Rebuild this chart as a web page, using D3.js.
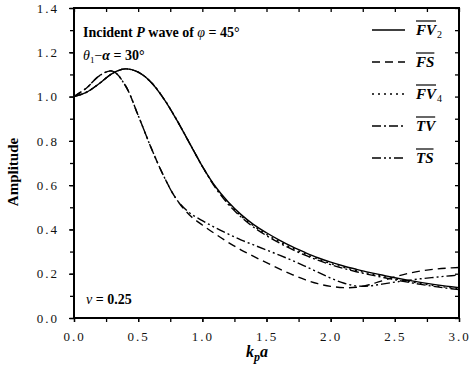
<!DOCTYPE html>
<html>
<head>
<meta charset="utf-8">
<script src="https://cdn.jsdelivr.net/npm/d3@7"></script>
<style>
  body { margin: 0; background: #fff; }
  svg { display: block; }
</style>
</head>
<body>
<div id="chart"></div>
<script>
// kpa grid
const kpa = [0.0, 0.1, 0.2, 0.3, 0.4, 0.5, 0.6, 0.7, 0.8, 0.9, 1.0, 1.1, 1.2, 1.3, 1.4, 1.5,
             1.6, 1.7, 1.8, 1.9, 2.0, 2.1, 2.2, 2.3, 2.4, 2.5, 2.6, 2.7, 2.8, 2.9, 3.0]

const fv2 = [1.000, 1.020, 1.060, 1.105, 1.125, 1.110, 1.065, 0.990, 0.895, 0.790, 0.685, 0.595, 0.525, 0.468, 0.422, 0.385,
             0.352, 0.322, 0.296, 0.272, 0.252, 0.235, 0.220, 0.206, 0.194, 0.182, 0.171, 0.161, 0.152, 0.144, 0.137]
const fs  = [1.000, 1.040, 1.095, 1.115, 1.050, 0.915, 0.770, 0.640, 0.535, 0.465, 0.420, 0.380, 0.342, 0.308, 0.278, 0.250,
             0.222, 0.196, 0.173, 0.155, 0.143, 0.137, 0.139, 0.150, 0.168, 0.186, 0.201, 0.212, 0.220, 0.225, 0.228]
const fv4 = [1.000, 1.020, 1.060, 1.105, 1.125, 1.110, 1.065, 0.990, 0.895, 0.790, 0.685, 0.593, 0.520, 0.462, 0.416, 0.378,
             0.345, 0.316, 0.290, 0.266, 0.246, 0.229, 0.214, 0.201, 0.189, 0.177, 0.166, 0.156, 0.147, 0.139, 0.132]
const tv  = [1.000, 1.020, 1.060, 1.105, 1.125, 1.110, 1.065, 0.990, 0.895, 0.790, 0.685, 0.590, 0.515, 0.457, 0.410, 0.372,
             0.339, 0.310, 0.284, 0.261, 0.241, 0.224, 0.209, 0.196, 0.184, 0.173, 0.162, 0.152, 0.143, 0.135, 0.128]
const ts  = [1.000, 1.040, 1.095, 1.115, 1.050, 0.915, 0.770, 0.640, 0.535, 0.475, 0.440, 0.408, 0.380, 0.353, 0.330, 0.307,
             0.284, 0.260, 0.234, 0.207, 0.180, 0.158, 0.145, 0.145, 0.153, 0.162, 0.170, 0.177, 0.183, 0.189, 0.194]

const seriesNames = ['FV', 'FS', 'FV', 'TV', 'TS']
const seriesSubs = ['2', '', '4', '', '']
const seriesValues = [fv2, fs, fv4, tv, ts]
const dashes = [null, '8,5', '2,4', '9,3,2,3', '9,3,2,3,2,3']

const xTicks = [0.0, 0.5, 1.0, 1.5, 2.0, 2.5, 3.0]
const yTicks = [0.0, 0.2, 0.4, 0.6, 0.8, 1.0, 1.2, 1.4]

const W = 474, H = 381
const margin = {top: 8, right: 15, bottom: 63, left: 74}
const iw = W - margin.left - margin.right
const ih = H - margin.top - margin.bottom

const svg = d3.select('#chart').append('svg')
    .attr('width', W).attr('height', H)

const g = svg.append('g').attr('transform', `translate(${margin.left},${margin.top})`)

const x = d3.scaleLinear().domain([0, 3]).range([0, iw])
const y = d3.scaleLinear().domain([0, 1.4]).range([ih, 0])

const serif = 'Liberation Serif, Times New Roman, serif'

// axes: outer ticks on left/bottom, inner ticks on top/right (mirror style)
function styleAxis(sel) {
    sel.select('.domain').remove()
    sel.selectAll('line').attr('stroke', '#000').attr('stroke-width', 1.3)
    sel.selectAll('text').attr('font-family', serif).attr('font-size', 13).attr('fill', '#111')
        .style('letter-spacing', '2px')
}
const minorX = d3.range(0, 3.01, 0.25)
const minorY = d3.range(0, 1.41, 0.1)

g.append('g').attr('transform', `translate(0,${ih})`)
    .call(d3.axisBottom(x).tickValues(minorX).tickSize(4).tickFormat(''))
    .call(styleAxis)
g.append('g').attr('transform', `translate(0,${ih})`)
    .call(d3.axisBottom(x).tickValues(xTicks).tickSize(4).tickPadding(10).tickFormat(d3.format('.1f')))
    .call(styleAxis)
g.append('g')
    .call(d3.axisLeft(y).tickValues(minorY).tickSize(4).tickFormat(''))
    .call(styleAxis)
g.append('g')
    .call(d3.axisLeft(y).tickValues(yTicks).tickSize(5).tickPadding(10).tickFormat(d3.format('.1f')))
    .call(styleAxis)
g.append('g')
    .call(d3.axisTop(x).tickValues(minorX).tickSize(-4).tickFormat(''))
    .call(styleAxis)
g.append('g').attr('transform', `translate(${iw},0)`)
    .call(d3.axisRight(y).tickValues(minorY).tickSize(-4).tickFormat(''))
    .call(styleAxis)

// frame
g.append('rect').attr('width', iw).attr('height', ih)
    .attr('fill', 'none').attr('stroke', '#000').attr('stroke-width', 2)

// curves
const line = d3.line()
    .x((d, i) => x(kpa[i]))
    .y(d => y(d))
    .curve(d3.curveCatmullRom.alpha(0.5))

seriesValues.forEach(function(vals, i) {
    g.append('path')
        .attr('d', line(vals))
        .attr('fill', 'none')
        .attr('stroke', '#000')
        .attr('stroke-width', 1.4)
        .attr('stroke-dasharray', dashes[i])
})

// legend
const legX = 372 - margin.left, legY0 = 30 - margin.top, legStep = 32
seriesNames.forEach(function(name, i) {
    const ly = legY0 + i * legStep
    g.append('line')
        .attr('x1', legX).attr('x2', legX + 33)
        .attr('y1', ly).attr('y2', ly)
        .attr('stroke', '#000').attr('stroke-width', 1.4)
        .attr('stroke-dasharray', dashes[i])
    const t = g.append('text')
        .attr('x', legX + 44).attr('y', ly + 5)
        .attr('font-family', serif).attr('font-size', 15)
        .attr('font-weight', 'bold').attr('font-style', 'italic')
        .text(name)
    const tw = t.node().getComputedTextLength()
    g.append('line')
        .attr('x1', legX + 44).attr('x2', legX + 44 + tw)
        .attr('y1', ly - 9).attr('y2', ly - 9)
        .attr('stroke', '#000').attr('stroke-width', 1.2)
    if (seriesSubs[i]) {
        g.append('text')
            .attr('x', legX + 44 + tw + 1).attr('y', ly + 8)
            .attr('font-family', serif).attr('font-size', 10)
            .text(seriesSubs[i])
    }
})

// annotations
const ann = svg.append('text')
    .attr('x', 83).attr('y', 37)
    .attr('font-family', serif).attr('font-size', 14).attr('font-weight', 'bold')
ann.append('tspan').text('Incident ')
ann.append('tspan').attr('font-style', 'italic').text('P')
ann.append('tspan').text(' wave of ')
ann.append('tspan').attr('font-style', 'italic').attr('font-weight', 'normal').text('φ')
ann.append('tspan').text(' = 45°')

const ann2 = svg.append('text')
    .attr('x', 83).attr('y', 60)
    .attr('font-family', serif).attr('font-size', 14).attr('font-weight', 'bold')
ann2.append('tspan').attr('font-style', 'italic').attr('font-weight', 'normal').text('θ')
ann2.append('tspan').attr('font-size', 9).attr('font-weight', 'normal').attr('dy', 3).text('1')
ann2.append('tspan').attr('font-weight', 'normal').attr('dy', -3).text('−')
ann2.append('tspan').attr('font-style', 'italic').text('α')
ann2.append('tspan').text(' = 30°')

const ann3 = svg.append('text')
    .attr('x', 86).attr('y', 304)
    .attr('font-family', serif).attr('font-size', 14).attr('font-weight', 'bold')
ann3.append('tspan').attr('font-style', 'italic').attr('font-weight', 'normal').text('ν')
ann3.append('tspan').text(' = 0.25')

// axis titles
svg.append('text')
    .attr('transform', 'translate(18,172) rotate(-90)')
    .attr('text-anchor', 'middle')
    .attr('font-family', serif).attr('font-size', 15).attr('font-weight', 'bold')
    .text('Amplitude')

const xt = svg.append('text')
    .attr('x', 257).attr('y', 357)
    .attr('text-anchor', 'middle')
    .attr('font-family', serif).attr('font-size', 16).attr('font-weight', 'bold').attr('font-style', 'italic')
xt.append('tspan').text('k')
xt.append('tspan').attr('font-size', 12).attr('dy', 4).text('p')
xt.append('tspan').attr('dy', -4).text('a')
</script>
</body>
</html>
